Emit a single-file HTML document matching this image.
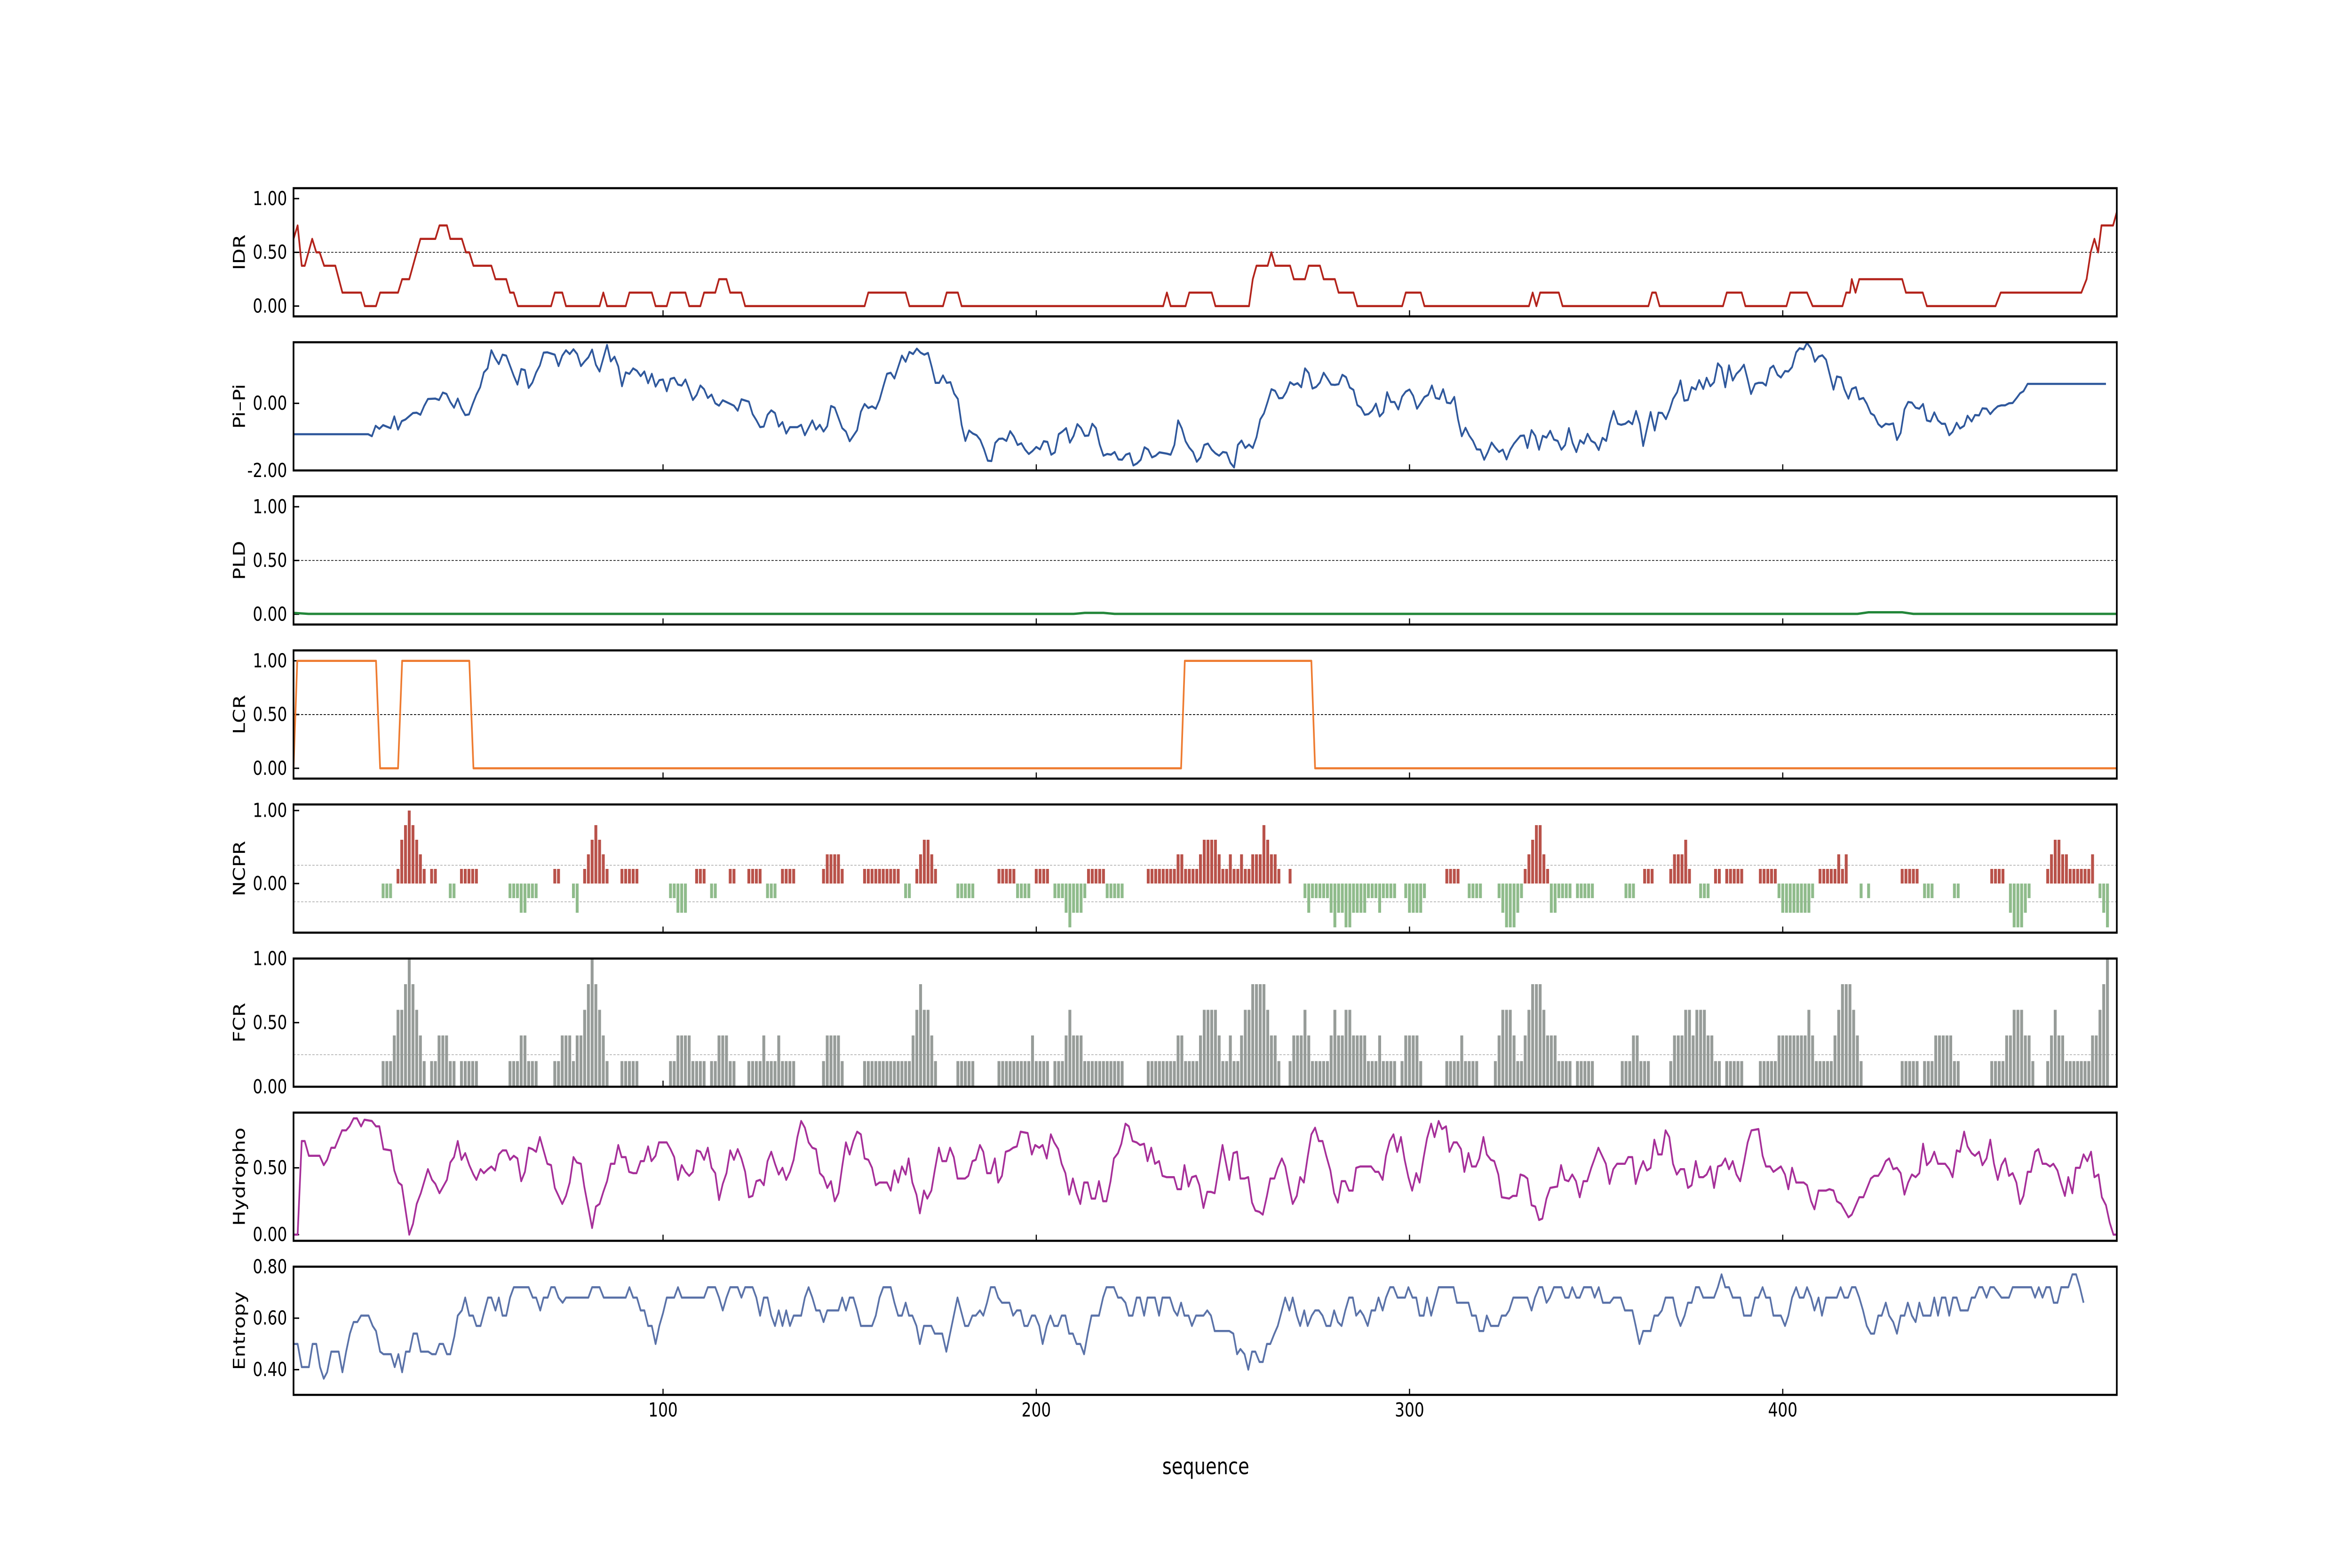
<!DOCTYPE html>
<html><head><meta charset="utf-8">
<style>
html,body{margin:0;padding:0;background:#fff;width:100%;height:100%;overflow:hidden;}
svg{display:block;width:100vw;height:100vh;}
text{font-family:"DejaVu Sans","Liberation Sans",sans-serif;}
</style></head>
<body>
<svg id="chart" viewBox="0 0 6250 3333" preserveAspectRatio="none" xmlns="http://www.w3.org/2000/svg">
<rect x="0" y="0" width="6250" height="3333" fill="#fff"/>
</svg>
<script>
// ---------- data ----------
const xTicks = [100, 200, 300, 400];
const panelNames = ["IDR","Pi\u2013Pi","PLD","LCR","NCPR","FCR","Hydropho","Entropy"];
const idrPoints = [[1,0.625],[2.1,0.75],[3.2,0.375],[4,0.375],[6,0.625],[7.1,0.5],[8,0.5],[9.2,0.375],[12.2,0.375],[14.1,0.125],[19.1,0.125],[20.1,0],[23.1,0],[24.2,0.125],[29,0.125],[30.1,0.25],[32,0.25],[35,0.625],[39,0.625],[40.1,0.75],[42.1,0.75],[43,0.625],[46.1,0.625],[47.2,0.5],[48.1,0.5],[49.2,0.375],[54,0.375],[55.1,0.25],[58,0.25],[59,0.125],[60,0.125],[61.1,0],[70,0],[71,0.125],[73,0.125],[74,0],[83,0],[84,0.125],[85,0],[90,0],[91,0.125],[97,0.125],[98,0],[101,0],[102,0.125],[106,0.125],[107,0],[110,0],[111,0.125],[114,0.125],[115,0.25],[117,0.25],[118,0.125],[121,0.125],[122,0],[154,0],[155,0.125],[165,0.125],[166,0],[175,0],[176,0.125],[179,0.125],[180,0],[234,0],[235,0.125],[236,0],[240,0],[241,0.125],[247,0.125],[248,0],[257,0],[258,0.25],[259,0.375],[262,0.375],[263,0.5],[264,0.375],[268,0.375],[269,0.25],[272,0.25],[273,0.375],[276,0.375],[277,0.25],[280,0.25],[281,0.125],[285,0.125],[286,0],[298,0],[299,0.125],[303,0.125],[304,0],[332,0],[333,0.125],[334,0],[335,0.125],[340,0.125],[341,0],[364,0],[365,0.125],[366,0.125],[367,0],[384,0],[385,0.125],[389,0.125],[390,0],[401,0],[402,0.125],[406.5,0.125],[408,0],[416,0],[417,0.125],[418,0.125],[418.5,0.25],[419.5,0.125],[420.5,0.25],[432,0.25],[433,0.125],[437.5,0.125],[438.6,0],[457,0],[458.4,0.125],[480,0.125],[481.4,0.25],[482.5,0.5],[483.5,0.625],[484.5,0.5],[485.4,0.75],[488.5,0.75],[489.5,0.875]];
const pipiPoints = [[1,-0.92],[21,-0.92],[22,-0.98],[23,-0.67],[24,-0.76],[25,-0.65],[27,-0.74],[28,-0.39],[29,-0.78],[30,-0.53],[31,-0.48],[33,-0.29],[34,-0.28],[35,-0.34],[36,-0.08],[37,0.13],[39,0.14],[40,0.1],[41,0.32],[42,0.28],[43,0.04],[44,-0.13],[45,0.14],[46,-0.15],[47,-0.35],[48,-0.33],[49,-0.02],[50,0.26],[51,0.48],[52,0.92],[53,1.04],[54,1.58],[55,1.35],[56,1.17],[57,1.45],[58,1.42],[59,1.12],[60,0.82],[61,0.56],[62,1.02],[63,0.99],[64,0.46],[65,0.62],[66,0.92],[67,1.13],[68,1.51],[69,1.52],[71,1.45],[72,1.11],[73,1.42],[74,1.58],[75,1.47],[76,1.61],[77,1.47],[78,1.11],[79,1.25],[80,1.37],[81,1.6],[82,1.15],[83,0.95],[85,1.74],[86,1.25],[87,1.39],[88,1.1],[89,0.51],[90,0.92],[91,0.88],[92,1.04],[93,0.97],[94,0.81],[95,0.95],[96,0.6],[97,0.88],[98,0.5],[99,0.69],[100,0.71],[101,0.36],[102,0.73],[103,0.76],[104,0.56],[105,0.53],[106,0.71],[107,0.41],[108,0.1],[109,0.25],[110,0.53],[111,0.42],[112,0.16],[113,0.26],[114,0],[115,-0.07],[116,0.09],[119,-0.07],[120,-0.22],[121,0.12],[123,0.05],[124,-0.32],[125,-0.5],[126,-0.71],[127,-0.69],[128,-0.34],[129,-0.21],[130,-0.29],[131,-0.69],[132,-0.56],[133,-0.9],[134,-0.71],[136,-0.71],[137,-0.64],[138,-0.95],[140,-0.51],[141,-0.78],[142,-0.64],[143,-0.84],[144,-0.68],[145,-0.08],[146,-0.13],[148,-0.74],[149,-0.84],[150,-1.13],[152,-0.8],[153,-0.25],[154,-0.02],[155,-0.14],[156,-0.09],[157,-0.16],[158,0.1],[159,0.5],[160,0.88],[161,0.91],[162,0.74],[164,1.42],[165,1.24],[166,1.53],[167,1.47],[168,1.63],[169,1.51],[170,1.45],[171,1.5],[172,1.08],[173,0.61],[174,0.61],[175,0.83],[176,0.61],[177,0.63],[178,0.29],[179,0.13],[180,-0.64],[181,-1.12],[182,-0.81],[183,-0.9],[184,-0.95],[185,-1.09],[186,-1.37],[187,-1.71],[188,-1.72],[189,-1.18],[190,-1.06],[191,-1.05],[192,-1.12],[193,-0.83],[194,-0.99],[195,-1.24],[196,-1.19],[197,-1.38],[198,-1.51],[199,-1.42],[200,-1.3],[201,-1.37],[202,-1.13],[203,-1.15],[204,-1.53],[205,-1.46],[206,-0.92],[207,-0.84],[208,-0.74],[209,-1.17],[210,-0.97],[211,-0.62],[212,-0.74],[213,-0.97],[214,-0.96],[215,-0.61],[216,-0.74],[217,-1.23],[218,-1.56],[219,-1.51],[220,-1.53],[221,-1.45],[222,-1.67],[223,-1.68],[224,-1.53],[225,-1.49],[226,-1.85],[227,-1.79],[228,-1.68],[229,-1.31],[230,-1.38],[231,-1.61],[232,-1.56],[233,-1.46],[235,-1.5],[236,-1.53],[237,-1.24],[238,-0.51],[239,-0.75],[240,-1.13],[241,-1.32],[242,-1.45],[243,-1.74],[244,-1.61],[245,-1.24],[246,-1.2],[247,-1.38],[248,-1.49],[249,-1.56],[250,-1.45],[251,-1.47],[252,-1.77],[253,-1.91],[254,-1.24],[255,-1.11],[256,-1.33],[257,-1.23],[258,-1.33],[259,-1.01],[260,-0.48],[261,-0.3],[262,0.05],[263,0.42],[264,0.37],[265,0.15],[266,0.16],[267,0.34],[268,0.63],[269,0.55],[270,0.6],[271,0.48],[272,1.04],[273,0.9],[274,0.44],[275,0.49],[276,0.62],[277,0.91],[278,0.74],[279,0.56],[280,0.55],[281,0.57],[282,0.85],[283,0.78],[284,0.47],[285,0.4],[286,-0.05],[287,-0.13],[288,-0.34],[289,-0.32],[290,-0.22],[291,-0.01],[292,-0.39],[293,-0.27],[294,0.33],[295,0.04],[296,0.04],[297,-0.18],[298,0.2],[299,0.35],[300,0.41],[301,0.22],[302,-0.16],[303,0.01],[304,0.19],[305,0.25],[306,0.53],[307,0.16],[308,0.13],[309,0.42],[310,0.02],[311,0],[312,0.19],[313,-0.48],[314,-0.98],[315,-0.73],[316,-0.96],[317,-1.12],[318,-1.37],[319,-1.38],[320,-1.68],[321,-1.45],[322,-1.17],[323,-1.32],[324,-1.45],[325,-1.38],[326,-1.67],[327,-1.38],[328,-1.2],[329.7,-0.97],[330.7,-0.96],[331.6,-1.33],[332.7,-0.8],[333.7,-0.97],[334.7,-1.38],[335.7,-0.97],[336.7,-1.02],[337.7,-0.82],[338.7,-1.08],[339.7,-1.12],[340.7,-1.38],[341.7,-1.24],[342.7,-0.74],[343.7,-1.18],[344.7,-1.45],[345.7,-1.1],[346.7,-1.2],[347.7,-0.91],[348.7,-1.12],[349.7,-1.18],[350.7,-1.39],[351.7,-1.03],[352.7,-1.12],[353.7,-0.6],[354.7,-0.23],[355.8,-0.61],[356.7,-0.64],[357.8,-0.61],[358.7,-0.53],[359.7,-0.62],[360.7,-0.23],[361.7,-0.61],[362.6,-1.27],[363.7,-0.71],[364.6,-0.26],[365.7,-0.81],[366.7,-0.28],[367.7,-0.29],[368.7,-0.47],[369.7,-0.19],[370.6,0.13],[371.7,0.33],[372.6,0.68],[373.6,0.08],[374.6,0.1],[375.6,0.48],[376.7,0.41],[377.6,0.69],[378.7,0.43],[379.6,0.76],[380.6,0.51],[381.6,0.63],[382.6,1.19],[383.6,1.06],[384.6,0.48],[385.6,1.13],[386.6,0.68],[387.6,0.88],[388.6,0.99],[389.6,1.15],[390.6,0.71],[391.5,0.28],[392.6,0.58],[393.5,0.61],[394.6,0.61],[395.5,0.53],[396.6,1.04],[397.5,1.12],[398.6,0.85],[399.5,0.77],[400.6,0.96],[401.5,0.95],[402.5,1.08],[403.6,1.52],[404.5,1.64],[405.6,1.61],[406.5,1.8],[407.6,1.63],[408.6,1.24],[409.6,1.39],[410.6,1.43],[411.6,1.3],[413.6,0.41],[414.5,0.8],[415.6,0.77],[416.5,0.42],[417.6,0.14],[418.5,0.43],[419.6,0.48],[420.5,0.12],[421.6,0.16],[422.5,-0.01],[423.6,-0.3],[424.5,-0.36],[425.6,-0.62],[426.5,-0.71],[427.6,-0.61],[428.5,-0.63],[429.6,-0.6],[430.6,-1.09],[431.6,-0.88],[432.6,-0.18],[433.6,0.04],[434.6,0.02],[435.6,-0.13],[436.6,-0.16],[437.6,-0.02],[438.6,-0.51],[439.6,-0.54],[440.6,-0.27],[441.6,-0.51],[442.6,-0.61],[443.5,-0.61],[444.6,-0.95],[445.5,-0.85],[446.6,-0.58],[447.5,-0.75],[448.6,-0.67],[449.5,-0.37],[450.6,-0.54],[451.5,-0.35],[452.6,-0.36],[453.5,-0.15],[454.6,-0.16],[455.6,-0.32],[456.6,-0.19],[457.6,-0.09],[458.6,-0.06],[459.6,-0.06],[460.6,0],[461.6,0.01],[462.6,0.15],[463.6,0.3],[464.5,0.36],[465.6,0.58],[486.6,0.58]];
const pldPoints = [[1,0.012],[5,0.003],[210,0.003],[213,0.012],[218,0.012],[221,0.003],[420,0.003],[423,0.018],[432,0.018],[435,0.003],[489.5,0.003]];
const lcrPoints = [[1,0],[2,1],[23.1,1],[24.2,0],[29,0],[30.1,1],[48.1,1],[49.2,0],[238.8,0],[239.8,1],[273.7,1],[274.7,0],[489.5,0]];
const ncprRuns = [[25,27,-0.2],[29,29,0.2],[30,30,0.6],[31,31,0.8],[32,32,1.0],[33,33,0.8],[34,34,0.6],[35,35,0.4],[36,36,0.2],[38,39,0.2],[43,44,-0.2],[46,50,0.2],[59,61,-0.2],[62,63,-0.4],[64,66,-0.2],[71,72,0.2],[76,76,-0.2],[77,77,-0.4],[79,79,0.2],[80,80,0.4],[81,81,0.6],[82,82,0.8],[83,83,0.6],[84,84,0.4],[85,85,0.2],[89,93,0.2],[102,103,-0.2],[104,106,-0.4],[109,111,0.2],[113,114,-0.2],[118,119,0.2],[123,126,0.2],[128,130,-0.2],[132,135,0.2],[143,143,0.2],[144,147,0.4],[148,148,0.2],[154,163,0.2],[165,166,-0.2],[168,168,0.2],[169,169,0.4],[170,171,0.6],[172,172,0.4],[173,173,0.2],[179,183,-0.2],[190,194,0.2],[195,198,-0.2],[200,203,0.2],[205,207,-0.2],[208,208,-0.4],[209,209,-0.6],[210,212,-0.4],[213,213,-0.2],[214,218,0.2],[219,223,-0.2],[230,237,0.2],[238,239,0.4],[240,243,0.2],[244,244,0.4],[245,248,0.6],[249,249,0.4],[250,251,0.2],[252,252,0.4],[253,254,0.2],[255,255,0.4],[256,257,0.2],[258,260,0.4],[261,261,0.8],[262,262,0.6],[263,264,0.4],[265,265,0.2],[268,268,0.2],[272,272,-0.2],[273,273,-0.4],[274,278,-0.2],[279,279,-0.4],[280,280,-0.6],[281,282,-0.4],[283,284,-0.6],[285,288,-0.4],[289,291,-0.2],[292,292,-0.4],[293,296,-0.2],[299,299,-0.2],[300,303,-0.4],[304,304,-0.2],[310,313,0.2],[316,319,-0.2],[324,324,-0.2],[325,325,-0.4],[326,328,-0.6],[329,329,-0.4],[330,330,-0.2],[331,331,0.2],[332,332,0.4],[333,333,0.6],[334,335,0.8],[336,336,0.4],[337,337,0.2],[338,339,-0.4],[340,343,-0.2],[345,349,-0.2],[358,360,-0.2],[363,365,0.2],[370,370,0.2],[371,373,0.4],[374,374,0.6],[375,375,0.2],[378,380,-0.2],[382,383,0.2],[385,389,0.2],[394,398,0.2],[399,399,-0.2],[400,407,-0.4],[408,408,-0.2],[410,414,0.2],[415,415,0.4],[416,416,0.2],[417,417,0.4],[421,421,-0.2],[423,423,-0.2],[432,436,0.2],[438,440,-0.2],[446,447,-0.2],[456,459,0.2],[461,461,-0.4],[462,464,-0.6],[465,465,-0.4],[466,466,-0.2],[471,471,0.2],[472,472,0.4],[473,474,0.6],[475,476,0.4],[477,482,0.2],[483,483,0.4],[485,485,-0.2],[486,486,-0.4],[487,487,-0.6]];
const fcrRuns = [[25,27,0.2],[28,28,0.4],[29,30,0.6],[31,31,0.8],[32,32,1.0],[33,33,0.8],[34,34,0.6],[35,35,0.4],[36,36,0.2],[38,39,0.2],[40,42,0.4],[43,44,0.2],[46,50,0.2],[59,61,0.2],[62,63,0.4],[64,66,0.2],[71,72,0.2],[73,75,0.4],[76,76,0.2],[77,78,0.4],[79,79,0.6],[80,80,0.8],[81,81,1.0],[82,82,0.8],[83,83,0.6],[84,84,0.4],[85,85,0.2],[89,93,0.2],[102,103,0.2],[104,107,0.4],[108,111,0.2],[113,114,0.2],[115,117,0.4],[118,119,0.2],[123,126,0.2],[127,127,0.4],[128,130,0.2],[131,131,0.4],[132,135,0.2],[143,143,0.2],[144,147,0.4],[148,148,0.2],[154,166,0.2],[167,167,0.4],[168,168,0.6],[169,169,0.8],[170,171,0.6],[172,172,0.4],[173,173,0.2],[179,183,0.2],[190,198,0.2],[199,199,0.4],[200,203,0.2],[205,207,0.2],[208,208,0.4],[209,209,0.6],[210,212,0.4],[213,223,0.2],[230,237,0.2],[238,239,0.4],[240,243,0.2],[244,244,0.4],[245,248,0.6],[249,249,0.4],[250,251,0.2],[252,252,0.4],[253,254,0.2],[255,255,0.4],[256,257,0.6],[258,261,0.8],[262,262,0.6],[263,264,0.4],[265,265,0.2],[268,268,0.2],[269,271,0.4],[272,272,0.6],[273,273,0.4],[274,278,0.2],[279,279,0.4],[280,280,0.6],[281,282,0.4],[283,284,0.6],[285,288,0.4],[289,291,0.2],[292,292,0.4],[293,296,0.2],[298,298,0.2],[299,302,0.4],[303,303,0.2],[310,313,0.2],[314,314,0.4],[315,318,0.2],[323,323,0.2],[324,324,0.4],[325,327,0.6],[328,328,0.4],[329,330,0.2],[331,331,0.4],[332,332,0.6],[333,335,0.8],[336,336,0.6],[337,339,0.4],[340,343,0.2],[345,349,0.2],[357,359,0.2],[360,361,0.4],[362,364,0.2],[370,370,0.2],[371,373,0.4],[374,375,0.6],[376,376,0.4],[377,379,0.6],[380,381,0.4],[382,383,0.2],[385,389,0.2],[394,398,0.2],[399,406,0.4],[407,407,0.6],[408,408,0.4],[409,413,0.2],[414,414,0.4],[415,415,0.6],[416,418,0.8],[419,419,0.6],[420,420,0.4],[421,421,0.2],[432,436,0.2],[438,440,0.2],[441,445,0.4],[446,447,0.2],[456,459,0.2],[460,461,0.4],[462,464,0.6],[465,466,0.4],[467,467,0.2],[471,471,0.2],[472,472,0.4],[473,473,0.6],[474,475,0.4],[476,482,0.2],[483,484,0.4],[485,485,0.6],[486,486,0.8],[487,487,1.0]];
const hydroPoints = [[1,0],[2.1,0],[3.2,0.7],[4,0.7],[5.1,0.59],[8,0.59],[9.1,0.52],[10,0.56],[11.1,0.65],[12.1,0.65],[14,0.78],[15.1,0.78],[16,0.81],[17.1,0.87],[18,0.87],[19.1,0.81],[20,0.86],[22,0.85],[23.1,0.81],[24,0.81],[25.1,0.64],[27.1,0.63],[28,0.48],[29.1,0.39],[30,0.37],[32,0],[33,0.08],[34,0.23],[35.1,0.31],[37,0.49],[38.1,0.41],[39,0.38],[40.1,0.31],[41.1,0.36],[42.1,0.41],[43,0.54],[44,0.58],[45,0.7],[46,0.56],[47,0.61],[48.1,0.52],[49.2,0.45],[50,0.41],[51.1,0.49],[52,0.46],[53.1,0.49],[54,0.51],[55,0.48],[56,0.6],[57,0.63],[58,0.63],[59,0.56],[60,0.59],[61,0.57],[62,0.4],[63,0.47],[64,0.65],[65,0.64],[66,0.62],[67,0.73],[69,0.53],[70,0.52],[71,0.35],[73,0.23],[74,0.29],[75,0.39],[76,0.58],[76.9,0.54],[78,0.53],[78.9,0.36],[81,0.05],[82,0.21],[83,0.23],[84,0.32],[85,0.4],[86,0.53],[87,0.53],[88,0.67],[88.9,0.58],[90,0.58],[90.9,0.47],[92,0.46],[92.9,0.46],[94,0.55],[94.9,0.55],[96,0.66],[96.9,0.55],[98,0.59],[98.9,0.69],[101,0.69],[102,0.64],[103,0.58],[104,0.41],[105,0.52],[106,0.47],[107,0.44],[108,0.47],[109,0.63],[110,0.62],[111,0.56],[112,0.65],[113,0.5],[114,0.46],[115,0.26],[116,0.38],[117,0.46],[118,0.63],[119,0.56],[120,0.64],[121,0.57],[122,0.47],[123,0.28],[124,0.29],[125,0.4],[126,0.41],[127,0.37],[128,0.55],[129,0.62],[130,0.53],[131,0.45],[132,0.5],[133,0.41],[134,0.47],[135,0.56],[136,0.73],[137,0.85],[138,0.8],[139,0.69],[140,0.65],[141,0.64],[142,0.46],[143,0.43],[144,0.35],[145,0.4],[146,0.25],[147,0.31],[148,0.51],[149,0.69],[150,0.6],[151,0.7],[152,0.77],[153,0.75],[154,0.57],[155,0.56],[156,0.5],[157,0.37],[158,0.39],[160,0.39],[161,0.33],[162,0.48],[163,0.39],[164,0.51],[165,0.45],[165.8,0.57],[166.8,0.39],[167.9,0.3],[168.8,0.16],[169.9,0.33],[170.8,0.27],[171.9,0.33],[172.8,0.48],[173.9,0.65],[174.8,0.55],[175.9,0.55],[176.9,0.65],[177.9,0.58],[178.9,0.42],[180.9,0.42],[181.8,0.44],[182.9,0.55],[183.8,0.56],[184.9,0.67],[185.8,0.62],[186.8,0.46],[187.8,0.46],[188.9,0.57],[189.8,0.39],[190.8,0.44],[191.8,0.62],[192.8,0.63],[193.8,0.65],[194.8,0.66],[195.8,0.77],[197.7,0.76],[198.8,0.6],[199.7,0.67],[200.8,0.65],[201.7,0.67],[202.8,0.57],[203.9,0.75],[204.8,0.69],[205.9,0.64],[206.8,0.53],[207.8,0.46],[208.8,0.3],[209.8,0.42],[210.8,0.31],[211.8,0.23],[212.8,0.39],[213.8,0.39],[214.8,0.27],[215.8,0.27],[216.8,0.4],[217.9,0.25],[218.8,0.25],[219.9,0.4],[220.8,0.57],[221.9,0.61],[222.8,0.68],[223.9,0.83],[224.8,0.81],[225.8,0.7],[226.9,0.69],[227.8,0.67],[228.9,0.68],[229.8,0.55],[230.8,0.65],[231.8,0.53],[232.9,0.55],[233.8,0.44],[234.9,0.43],[236.9,0.43],[237.8,0.34],[238.8,0.34],[239.7,0.52],[240.8,0.36],[241.7,0.43],[242.8,0.44],[243.7,0.37],[244.8,0.2],[245.8,0.32],[246.8,0.32],[247.8,0.31],[249.9,0.67],[250.8,0.54],[251.7,0.41],[252.8,0.61],[253.8,0.62],[254.7,0.42],[255.8,0.42],[256.8,0.43],[257.8,0.24],[258.7,0.18],[259.8,0.17],[260.7,0.15],[261.8,0.29],[262.7,0.42],[263.8,0.42],[264.7,0.5],[265.8,0.57],[266.7,0.51],[267.8,0.35],[268.7,0.23],[269.8,0.29],[270.7,0.43],[271.7,0.39],[272.7,0.58],[273.7,0.75],[274.7,0.8],[275.7,0.7],[276.7,0.7],[277.7,0.59],[278.8,0.48],[279.8,0.31],[280.8,0.24],[281.8,0.4],[282.8,0.4],[283.8,0.33],[284.8,0.33],[285.7,0.5],[286.8,0.51],[289.7,0.51],[290.8,0.47],[291.7,0.47],[292.8,0.41],[293.7,0.59],[294.7,0.7],[295.7,0.75],[296.7,0.62],[297.7,0.73],[298.7,0.56],[299.7,0.43],[300.7,0.33],[301.8,0.46],[302.7,0.39],[303.8,0.58],[304.7,0.72],[305.8,0.83],[306.7,0.73],[307.8,0.85],[308.7,0.79],[309.8,0.81],[310.7,0.62],[311.8,0.69],[312.7,0.69],[313.8,0.64],[314.7,0.47],[315.8,0.61],[316.7,0.51],[317.8,0.51],[318.7,0.57],[319.8,0.73],[320.7,0.6],[321.8,0.56],[322.7,0.55],[323.8,0.45],[324.7,0.28],[326.7,0.27],[327.7,0.29],[328.7,0.29],[329.7,0.45],[330.7,0.44],[331.6,0.42],[332.7,0.22],[333.7,0.21],[334.7,0.11],[335.6,0.12],[336.7,0.27],[337.7,0.35],[339.6,0.36],[340.6,0.52],[341.6,0.41],[342.6,0.4],[343.6,0.45],[344.6,0.4],[345.6,0.28],[346.6,0.4],[347.6,0.4],[348.7,0.5],[349.6,0.57],[350.6,0.65],[352.6,0.53],[353.6,0.38],[354.6,0.49],[355.6,0.53],[357.7,0.53],[358.6,0.58],[359.7,0.58],[360.6,0.38],[361.6,0.48],[362.6,0.55],[363.6,0.48],[364.6,0.5],[365.6,0.71],[366.6,0.6],[367.6,0.6],[368.6,0.78],[369.6,0.73],[370.6,0.53],[371.6,0.45],[372.6,0.49],[373.6,0.49],[374.6,0.35],[375.6,0.37],[376.7,0.55],[377.6,0.43],[378.7,0.43],[379.6,0.45],[380.6,0.51],[381.6,0.35],[382.6,0.51],[383.6,0.52],[384.6,0.57],[385.6,0.49],[386.6,0.55],[387.6,0.45],[388.6,0.4],[389.6,0.54],[390.6,0.69],[391.6,0.78],[393.5,0.79],[394.6,0.59],[395.5,0.51],[396.6,0.51],[397.5,0.47],[399.5,0.51],[400.6,0.45],[401.5,0.34],[402.5,0.5],[403.6,0.39],[405.6,0.39],[406.5,0.37],[407.6,0.25],[408.5,0.19],[409.6,0.33],[411.6,0.33],[412.5,0.34],[413.6,0.33],[414.5,0.25],[415.6,0.23],[417.6,0.13],[418.5,0.15],[420.5,0.28],[421.6,0.28],[423.6,0.42],[424.5,0.44],[425.6,0.44],[426.5,0.48],[427.6,0.55],[428.5,0.57],[429.6,0.49],[430.6,0.5],[431.6,0.46],[432.6,0.3],[433.6,0.39],[434.6,0.45],[435.6,0.43],[436.6,0.46],[437.6,0.68],[438.6,0.52],[439.6,0.55],[440.6,0.62],[441.6,0.53],[443.5,0.53],[444.6,0.49],[445.5,0.43],[446.6,0.63],[447.5,0.62],[448.6,0.77],[449.5,0.66],[450.6,0.61],[451.5,0.59],[452.6,0.62],[453.5,0.52],[454.6,0.57],[455.6,0.71],[456.6,0.53],[457.6,0.41],[458.6,0.52],[459.6,0.57],[460.6,0.44],[461.6,0.46],[462.6,0.39],[463.6,0.23],[464.5,0.29],[465.6,0.47],[466.5,0.47],[467.6,0.62],[468.5,0.64],[469.6,0.53],[470.6,0.53],[471.6,0.51],[472.5,0.53],[473.6,0.48],[474.5,0.39],[475.6,0.29],[476.5,0.43],[477.6,0.31],[478.5,0.5],[479.6,0.5],[480.6,0.6],[481.6,0.55],[482.6,0.62],[483.5,0.43],[484.6,0.45],[485.5,0.28],[486.6,0.22],[487.6,0.09],[488.6,0],[489.5,0]];
const entropyPoints = [[1,0.5],[2.1,0.5],[3.2,0.41],[5.1,0.41],[6.1,0.5],[7.1,0.5],[8.1,0.41],[9.1,0.365],[10,0.39],[11.1,0.47],[13.1,0.47],[14.1,0.39],[15.1,0.47],[16.1,0.54],[17.1,0.585],[18.1,0.585],[19.1,0.61],[21.1,0.61],[22.2,0.57],[23.1,0.55],[24.2,0.47],[25.1,0.46],[27.1,0.46],[28.1,0.41],[29.1,0.46],[30.1,0.39],[31.1,0.47],[32.1,0.47],[33.1,0.54],[34.1,0.54],[35.1,0.47],[37.1,0.47],[38.1,0.46],[39.1,0.46],[40.1,0.5],[41.1,0.5],[42.1,0.46],[43,0.46],[44.1,0.53],[45,0.61],[46.1,0.63],[47,0.68],[48.1,0.61],[49.1,0.61],[50,0.57],[51.1,0.57],[52,0.62],[53.1,0.68],[54,0.68],[55.1,0.63],[56,0.68],[57,0.61],[58,0.61],[59,0.68],[60,0.72],[64,0.72],[65.1,0.68],[66,0.68],[67.1,0.63],[68,0.68],[69.1,0.68],[70,0.72],[71,0.72],[72,0.68],[73.1,0.66],[74,0.68],[80,0.68],[81,0.72],[83,0.72],[84.1,0.68],[90,0.68],[91,0.72],[92,0.68],[93,0.68],[94,0.63],[95,0.63],[96,0.57],[97,0.57],[98,0.5],[99,0.57],[100,0.62],[101,0.68],[103,0.68],[104,0.72],[105,0.68],[111,0.68],[112,0.72],[114,0.72],[115,0.68],[116,0.63],[117,0.68],[118,0.72],[120,0.72],[121,0.68],[122,0.72],[124,0.72],[125,0.68],[126,0.61],[127,0.68],[128,0.68],[129,0.61],[130,0.57],[131,0.63],[132,0.57],[133,0.63],[134,0.57],[135,0.61],[137,0.61],[138,0.68],[139,0.72],[140,0.68],[141,0.63],[142,0.63],[143,0.585],[144,0.63],[147,0.63],[148,0.68],[149,0.63],[150,0.68],[151,0.68],[152,0.63],[153,0.57],[156,0.57],[157,0.61],[158,0.68],[159,0.72],[161,0.72],[162,0.66],[163,0.61],[164,0.61],[165,0.66],[165.9,0.61],[166.8,0.61],[167.9,0.57],[168.8,0.5],[169.9,0.57],[171.9,0.57],[172.8,0.54],[174.8,0.54],[175.9,0.47],[176.9,0.54],[177.9,0.61],[178.9,0.68],[179.8,0.63],[180.9,0.57],[181.8,0.57],[182.9,0.61],[183.8,0.61],[184.9,0.63],[185.8,0.61],[186.8,0.66],[187.8,0.72],[188.9,0.72],[189.8,0.68],[190.8,0.66],[192.8,0.66],[193.8,0.61],[194.8,0.63],[195.8,0.63],[196.8,0.57],[197.7,0.57],[198.8,0.61],[199.7,0.61],[200.8,0.57],[201.7,0.5],[202.8,0.57],[203.8,0.61],[204.8,0.57],[205.8,0.57],[206.8,0.61],[207.8,0.61],[208.8,0.54],[209.8,0.54],[210.8,0.5],[211.8,0.5],[212.8,0.46],[213.8,0.54],[214.8,0.61],[216.8,0.61],[217.9,0.68],[218.8,0.72],[220.8,0.72],[221.9,0.68],[222.8,0.68],[223.9,0.66],[224.8,0.61],[225.8,0.61],[226.9,0.68],[227.8,0.68],[228.9,0.61],[229.8,0.68],[231.8,0.68],[232.9,0.61],[233.8,0.68],[235.8,0.68],[236.9,0.63],[237.8,0.61],[238.8,0.66],[239.7,0.61],[240.8,0.61],[241.7,0.57],[242.8,0.61],[244.8,0.61],[245.8,0.63],[246.8,0.61],[247.8,0.55],[251.7,0.55],[252.8,0.54],[253.8,0.46],[254.7,0.48],[255.8,0.46],[256.8,0.4],[257.8,0.47],[258.7,0.47],[259.8,0.43],[260.7,0.43],[261.8,0.5],[262.7,0.5],[263.8,0.54],[264.7,0.57],[265.8,0.63],[266.7,0.68],[267.8,0.63],[268.7,0.68],[269.8,0.61],[270.7,0.57],[271.8,0.63],[272.7,0.57],[273.8,0.61],[274.7,0.63],[275.7,0.63],[276.7,0.61],[277.7,0.57],[278.8,0.57],[279.8,0.63],[280.8,0.585],[281.8,0.57],[282.8,0.63],[283.8,0.68],[284.8,0.68],[285.7,0.61],[286.8,0.63],[287.7,0.61],[288.8,0.57],[289.8,0.63],[290.8,0.63],[291.7,0.68],[292.8,0.63],[293.7,0.68],[294.8,0.72],[295.7,0.72],[296.8,0.68],[298.8,0.68],[299.7,0.72],[300.8,0.68],[301.8,0.68],[302.7,0.61],[303.8,0.61],[304.7,0.68],[305.8,0.61],[306.7,0.66],[307.8,0.72],[311.8,0.72],[312.7,0.66],[315.8,0.66],[316.7,0.61],[317.8,0.61],[318.7,0.55],[319.8,0.55],[320.7,0.61],[321.8,0.57],[323.8,0.57],[324.7,0.61],[325.8,0.61],[326.7,0.63],[327.8,0.68],[331.6,0.68],[332.7,0.63],[333.6,0.68],[334.7,0.72],[335.6,0.72],[336.7,0.66],[337.6,0.68],[338.7,0.72],[340.7,0.72],[341.7,0.68],[342.7,0.68],[343.6,0.72],[344.7,0.68],[345.6,0.68],[346.7,0.72],[348.7,0.72],[349.6,0.68],[350.7,0.72],[351.8,0.66],[353.7,0.66],[354.7,0.68],[356.6,0.68],[357.7,0.63],[359.7,0.63],[360.6,0.57],[361.6,0.5],[362.6,0.55],[364.6,0.55],[365.6,0.61],[366.6,0.61],[367.6,0.63],[368.6,0.68],[370.6,0.68],[371.6,0.61],[372.6,0.57],[373.7,0.61],[374.6,0.66],[375.6,0.66],[376.7,0.72],[377.6,0.72],[378.7,0.68],[381.6,0.68],[382.6,0.72],[383.6,0.77],[384.6,0.72],[385.6,0.72],[386.6,0.68],[388.6,0.68],[389.6,0.61],[391.5,0.61],[392.6,0.68],[393.5,0.68],[394.6,0.72],[395.5,0.68],[396.6,0.68],[397.5,0.61],[399.5,0.61],[400.6,0.57],[401.5,0.61],[402.5,0.68],[403.6,0.72],[404.5,0.68],[405.6,0.68],[406.5,0.72],[407.6,0.68],[408.5,0.63],[409.6,0.68],[410.5,0.61],[411.6,0.68],[414.5,0.68],[415.5,0.72],[416.5,0.68],[417.5,0.68],[418.5,0.72],[419.5,0.72],[420.5,0.68],[421.5,0.63],[422.5,0.57],[423.6,0.54],[424.5,0.54],[425.6,0.61],[426.5,0.61],[427.6,0.66],[428.5,0.61],[429.6,0.585],[430.6,0.54],[431.6,0.61],[432.6,0.61],[433.5,0.66],[434.6,0.61],[435.6,0.585],[436.6,0.66],[437.6,0.61],[439.6,0.61],[440.6,0.68],[441.6,0.61],[442.6,0.68],[443.6,0.68],[444.6,0.61],[445.6,0.68],[446.6,0.68],[447.6,0.63],[449.6,0.63],[450.6,0.68],[451.5,0.68],[452.6,0.72],[453.5,0.72],[454.6,0.68],[455.6,0.72],[456.6,0.72],[458.6,0.68],[460.6,0.68],[461.6,0.72],[466.6,0.72],[467.6,0.68],[468.6,0.72],[469.6,0.68],[470.6,0.72],[471.6,0.72],[472.6,0.66],[473.6,0.66],[474.6,0.72],[476.5,0.72],[477.6,0.77],[478.6,0.77],[479.6,0.72],[480.6,0.66]];

const idrTicks = [0, 0.5, 1.0];
const pipiTicks = [-2, 0];
const ncprTicks = [0, 1.0];
const fcrTicks = [0, 0.5, 1.0];
const hydroTicks = [0, 0.5];
const entropyTicks = [0.4, 0.6, 0.8];

// ---------- layout ----------
const NS = "http://www.w3.org/2000/svg";
const svg = document.getElementById("chart");
const X0 = 780, X1 = 5625, XMIN = 1, XMAX = 489.5;
const PH = 272.5;
const panelTops = [400, 727.5, 1055, 1382.5, 1710, 2037.5, 2365, 2692.5];
function xScale(s){ return X0 + (s - XMIN) * (X1 - X0) / (XMAX - XMIN); }
function yScaleFor(top, lo, hi){ return v => top + PH - (v - lo) / (hi - lo) * PH; }
function mk(tag, attrs, parent){
  const e = document.createElementNS(NS, tag);
  for (const k in attrs) e.setAttribute(k, attrs[k]);
  (parent || svg).appendChild(e);
  return e;
}
function fmt(v){ return (v < 0 ? "-" : "") + Math.abs(v).toFixed(2); }

function makePanel(i, lo, hi, ticks, slug){
  const top = panelTops[i];
  const y = yScaleFor(top, lo, hi);
  const g = mk("g", {});
  
  
  const lab = mk("text", {x: 0, y: 0, "font-size": 43, "text-anchor": "middle", "dominant-baseline": "central",
    transform: "translate(637," + (top + PH/2) + ") rotate(-90)", fill: "#000"}, g);
  lab.textContent = panelNames[i];
  
  
  ticks.forEach(t => {
    const yy = y(t);
    const tk = mk("line", {x1: X0, x2: X0 + 15, y1: yy, y2: yy, stroke: "#000", "stroke-width": 3}, g);
    
    
    const tl = mk("text", {x: 763, y: yy, "font-size": 41, "text-anchor": "end", "dominant-baseline": "central", fill: "#000"}, g);
    tl.textContent = fmt(t);
    
    
  });
  xTicks.forEach(t => {
    const xx = xScale(t);
    const tk = mk("line", {x1: xx, x2: xx, y1: top + PH, y2: top + PH - 13, stroke: "#000", "stroke-width": 3}, g);
    
    
  });
  return {g, y, top};
}
function hline(p, v, slug, color, dash, w){
  const yy = p.y(v);
  const l = mk("line", {x1: X0, x2: X1, y1: yy, y2: yy, stroke: color, "stroke-width": w, "stroke-dasharray": dash}, p.g);
  
  
}
function linePath(p, pts, color, w, slug){
  const d = pts.map((q, k) => (k ? "L" : "M") + xScale(q[0]).toFixed(1) + "," + p.y(q[1]).toFixed(1)).join("");
  const path = mk("path", {d: d, fill: "none", stroke: color, "stroke-width": w, "stroke-linejoin": "round"}, p.g);
  
  
}
function bars(p, runs, colorFn, slug){
  const bw = 0.78 * (X1 - X0) / (XMAX - XMIN);
  runs.forEach(r => {
    for (let s = r[0]; s <= r[1]; s++){
      const v = r[2];
      const y0 = p.y(0), y1 = p.y(v);
      const b = mk("rect", {x: (xScale(s) - bw/2).toFixed(1), y: Math.min(y0, y1).toFixed(1), width: bw.toFixed(1),
        height: Math.abs(y1 - y0).toFixed(1), fill: colorFn(v)}, p.g);
      
      
    }
  });
}
function frame(p, slug){
  const r = mk("rect", {x: X0, y: p.top, width: X1 - X0, height: PH, fill: "none", stroke: "#000", "stroke-width": 4.5}, p.g);
  
  
}

let p = makePanel(0, -0.096, 1.097, idrTicks, "idr");
hline(p, 0.5, "idr-threshold-line", "#000", "6,4", 1.6);
linePath(p, idrPoints, "#b3231b", 4.5, "idr-line");
frame(p, "idr");
p = makePanel(1, -2, 1.82, pipiTicks, "pipi");
linePath(p, pipiPoints, "#2f589c", 4.5, "pipi-line");
frame(p, "pipi");
p = makePanel(2, -0.096, 1.097, idrTicks, "pld");
hline(p, 0.5, "pld-threshold-line", "#000", "6,4", 1.6);
linePath(p, pldPoints, "#23873a", 5, "pld-line");
frame(p, "pld");
p = makePanel(3, -0.096, 1.097, idrTicks, "lcr");
hline(p, 0.5, "lcr-threshold-line", "#000", "6,4", 1.8);
linePath(p, lcrPoints, "#ee7b30", 4.5, "lcr-line");
frame(p, "lcr");
p = makePanel(4, -0.673, 1.083, ncprTicks, "ncpr");
hline(p, 0.25, "ncpr-upper-threshold", "#aaa", "6,4", 1.5);
hline(p, -0.25, "ncpr-lower-threshold", "#aaa", "6,4", 1.5);
bars(p, ncprRuns, v => v > 0 ? "#b9524a" : "#8fbb8b", "ncpr-bar");
frame(p, "ncpr");
p = makePanel(5, 0, 1, fcrTicks, "fcr");
hline(p, 0.25, "fcr-threshold", "#aaa", "6,4", 1.5);
bars(p, fcrRuns, v => "#979c99", "fcr-bar");
frame(p, "fcr");
p = makePanel(6, -0.046, 0.913, hydroTicks, "hydropho");
linePath(p, hydroPoints, "#a62f99", 4.5, "hydropho-line");
frame(p, "hydropho");
p = makePanel(7, 0.302, 0.8, entropyTicks, "entropy");
linePath(p, entropyPoints, "#5a72a8", 4.5, "entropy-line");
frame(p, "entropy");

xTicks.forEach(t => {
  const tl = mk("text", {x: xScale(t), y: 2997, "font-size": 41, "text-anchor": "middle", "dominant-baseline": "central", fill: "#000"});
  tl.textContent = String(t);
  
  
});
const xl = mk("text", {x: 3204, y: 3118, "font-size": 48, "text-anchor": "middle", "dominant-baseline": "central", fill: "#000"});
xl.textContent = "sequence";


</script>
</body></html>
